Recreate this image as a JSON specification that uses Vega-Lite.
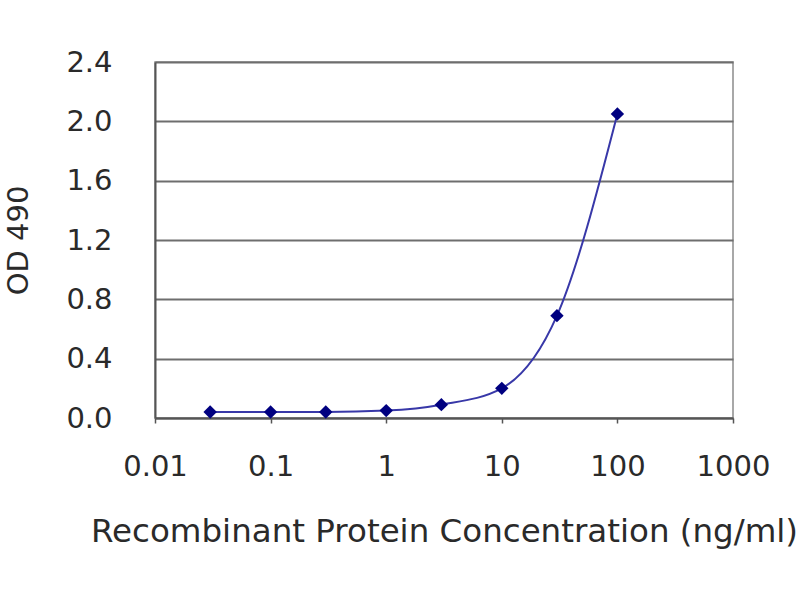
{
  "$schema": "https://vega.github.io/schema/vega-lite/v6.json",
  "width": 578,
  "height": 356,
  "autosize": "none",
  "padding": {"left": 155, "top": 62, "right": 67, "bottom": 182},
  "background": "white",
  "config": {
    "font": "DejaVu Sans",
    "view": {"stroke": "#8c8c8c", "strokeWidth": 1.5}
  },
  "data": {
    "values": [
      {"conc": 0.03, "od": 0.04},
      {"conc": 0.1, "od": 0.04},
      {"conc": 0.3, "od": 0.04},
      {"conc": 1, "od": 0.05},
      {"conc": 3, "od": 0.09},
      {"conc": 10, "od": 0.2},
      {"conc": 30, "od": 0.69},
      {"conc": 100, "od": 2.05}
    ]
  },
  "encoding": {
    "x": {
      "field": "conc",
      "type": "quantitative",
      "scale": {"type": "log", "domain": [0.01, 1000], "nice": false},
      "axis": {
        "values": [0.01, 0.1, 1, 10, 100, 1000],
        "format": "~g",
        "grid": false,
        "domainColor": "#555555",
        "domainWidth": 2,
        "tickColor": "#555555",
        "tickSize": 5,
        "tickWidth": 1.5,
        "labelFontSize": 29,
        "labelColor": "#2a2a2a",
        "labelPadding": 29,
        "labelFlush": false,
        "title": "Recombinant Protein Concentration (ng/ml)",
        "titleFontSize": 32.5,
        "titleFontWeight": "normal",
        "titleColor": "#2a2a2a",
        "titlePadding": 34
      }
    },
    "y": {
      "field": "od",
      "type": "quantitative",
      "scale": {"domain": [0, 2.4], "nice": false},
      "axis": {
        "values": [0, 0.4, 0.8, 1.2, 1.6, 2.0, 2.4],
        "format": ".1f",
        "grid": true,
        "gridColor": "#6e6e6e",
        "gridWidth": 2,
        "domainColor": "#555555",
        "domainWidth": 2,
        "ticks": false,
        "labelFontSize": 29,
        "labelColor": "#2a2a2a",
        "labelPadding": 43,
        "title": "OD 490",
        "titleFontSize": 29,
        "titleFontWeight": "normal",
        "titleColor": "#2a2a2a",
        "titlePadding": 32
      }
    }
  },
  "layer": [
    {
      "mark": {"type": "line", "interpolate": "monotone", "color": "#3838a8", "strokeWidth": 2}
    },
    {
      "mark": {"type": "point", "shape": "diamond", "filled": true, "color": "#000080", "opacity": 1, "size": 180}
    }
  ]
}
